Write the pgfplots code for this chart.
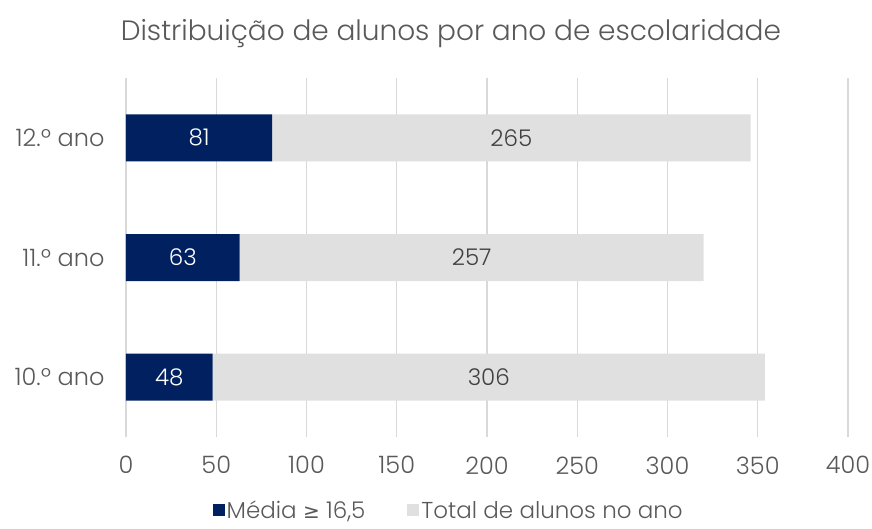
\documentclass[border=0pt]{standalone}
\usepackage{pgfplots}
\pgfplotsset{compat=1.18}
\usepackage{fontspec}
\setmainfont{Poppins Light}
\newfontfamily\symf{DejaVu Sans}
\definecolor{navy}{HTML}{002060}
\definecolor{lgrey}{HTML}{E0E0E0}
\definecolor{gridc}{HTML}{D9D9D9}
\definecolor{txt}{HTML}{595959}
\definecolor{dtxt}{HTML}{404040}
\begin{document}
\begin{tikzpicture}
\useasboundingbox (-126pt,-91pt) rectangle (746pt,437pt);
\pgfplotsset{commonax/.style={
  scale only axis, width=722pt, height=359pt,
  xmin=0, xmax=400, ymin=0.5, ymax=3.5,
  axis line style={draw=none}, major tick length=0pt,
}}
\begin{axis}[commonax,
  xbar stacked, bar width=47pt,
  xtick={0,50,...,400}, ytick={1,2,3},
  yticklabels={10.º ano,11.º ano,12.º ano},
  xmajorgrids, major grid style={gridc, line width=1.3pt},
  /pgf/number format/assume math mode=true,
  tick label style={font=\fontsize{24}{28}\selectfont, text=txt},
  xticklabel style={yshift=-16pt},
  yticklabel style={xshift=-18pt},
  title={Distribuição de alunos por ano de escolaridade},
  title style={at={(axis description cs:0.45,1)}, anchor=center, yshift=38pt, font=\fontsize{28}{33}\selectfont, text=txt},
  legend style={at={(axis description cs:0.447,-0.205)}, anchor=center, draw=none, fill=none,
    legend columns=2, font=\fontsize{23}{26}\selectfont, text=txt,
    /tikz/every even column/.append style={column sep=40pt}},
  legend image code/.code={\fill[#1] (0pt,-5pt) rectangle (12pt,7pt);},
]
\addplot[fill=navy, draw=none] coordinates {(48,1) (63,2) (81,3)};
\addlegendentry{Média {\symf\fontsize{20}{24}\selectfont ≥} 16,5}
\addplot[fill=lgrey, draw=none] coordinates {(306,1) (257,2) (265,3)};
\addlegendentry{Total de alunos no ano}
\end{axis}
\begin{axis}[commonax, hide axis]
\addplot[only marks, mark=none, nodes near coords, point meta=explicit symbolic,
  nodes near coords style={anchor=center, text=white, font=\fontsize{23}{27}\selectfont}]
  coordinates {(24,1) [48] (31.5,2) [63] (40.5,3) [81]};
\addplot[only marks, mark=none, nodes near coords, point meta=explicit symbolic,
  nodes near coords style={anchor=center, text=dtxt, font=\fontsize{23}{27}\selectfont}]
  coordinates {(201,1) [306] (191.5,2) [257] (213.5,3) [265]};
\end{axis}
\end{tikzpicture}
\end{document}
